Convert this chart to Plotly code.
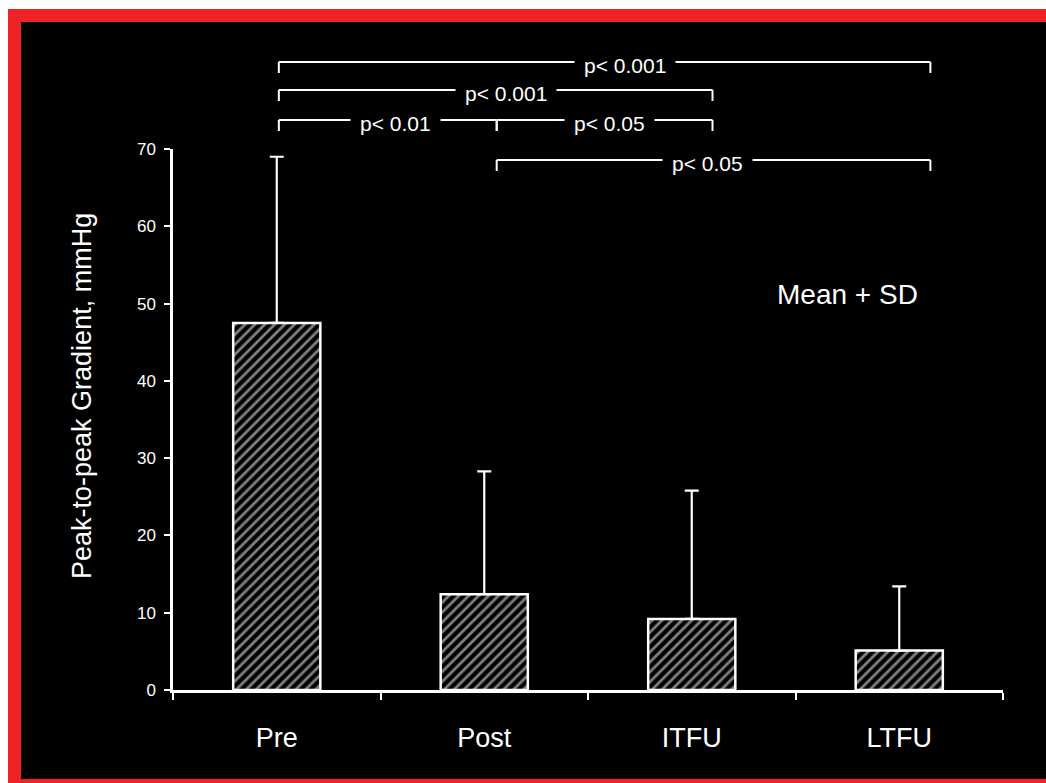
import plotly.graph_objects as go

# ---------------- data ----------------
categories = ["Pre", "Post", "ITFU", "LTFU"]
means = [47.5, 12.4, 9.2, 5.1]
sds = [21.5, 15.9, 16.6, 8.3]
y_tick_values = [0, 10, 20, 30, 40, 50, 60, 70]
y_title = "Peak-to-peak Gradient, mmHg"
note_text = "Mean + SD"

comp_left = ["Pre", "Pre", "Pre", "Post", "Post"]
comp_right = ["LTFU", "ITFU", "Post", "ITFU", "LTFU"]
comp_labels = ["p< 0.001", "p< 0.001", "p< 0.01", "p< 0.05", "p< 0.05"]

# ---------------- layout helpers ----------------
W, H = 1046, 783
FONT = "Liberation Sans, Arial, Helvetica, sans-serif"


def px_x(p):
    return p / W


def px_y(p):
    return 1 - p / H


# bracket geometry (pixels from top) and endpoint offsets in category units
bracket_levels = [62, 90, 120, 120, 160]
left_offset = {"Pre": 0.01, "Post": 0.06}
right_offset = {"Post": 0.06, "ITFU": 0.10, "LTFU": 0.15}
label_shift = [20, 10, 8, 5, -6]
tick_drop = 11

idx = {c: i for i, c in enumerate(categories)}

fig = go.Figure()
fig.add_trace(go.Bar(
    x=categories,
    y=means,
    width=0.42,
    marker=dict(
        color="black",
        line=dict(color="white", width=2.5),
        pattern=dict(shape="/", fgcolor="white", bgcolor="black",
                     size=7, solidity=0.4),
    ),
    error_y=dict(type="data", symmetric=False, array=sds,
                 arrayminus=[0] * len(sds), color="white",
                 thickness=2.2, width=7),
    showlegend=False,
))

shapes = [
    # red frame and black slide background
    dict(type="rect", xref="paper", yref="paper", layer="below",
         x0=px_x(8), x1=px_x(W + 5), y0=px_y(9), y1=px_y(H + 5),
         fillcolor="#ee2326", line=dict(width=0)),
    dict(type="rect", xref="paper", yref="paper", layer="below",
         x0=px_x(21), x1=px_x(W + 5), y0=px_y(22), y1=px_y(779),
         fillcolor="black", line=dict(width=0)),
]

annotations = []
for L, R, lab, lvl, sh in zip(comp_left, comp_right, comp_labels,
                              bracket_levels, label_shift):
    xl = idx[L] + left_offset[L]
    xr = idx[R] + right_offset[R]
    line = dict(color="white", width=2)
    shapes.append(dict(type="line", xref="x", yref="paper",
                       x0=xl, x1=xr, y0=px_y(lvl), y1=px_y(lvl), line=line))
    shapes.append(dict(type="line", xref="x", yref="paper",
                       x0=xl, x1=xl, y0=px_y(lvl), y1=px_y(lvl + tick_drop),
                       line=line))
    shapes.append(dict(type="line", xref="x", yref="paper",
                       x0=xr, x1=xr, y0=px_y(lvl), y1=px_y(lvl + tick_drop),
                       line=line))
    annotations.append(dict(
        x=(xl + xr) / 2, xref="x", y=px_y(lvl + 3), yref="paper",
        xshift=sh, text=lab, showarrow=False, bgcolor="black",
        borderpad=9, font=dict(family=FONT, size=21, color="white"),
        xanchor="center", yanchor="middle"))

annotations.append(dict(
    x=px_x(82), y=px_y(396), xref="paper", yref="paper", text=y_title,
    textangle=-90, showarrow=False, xanchor="center", yanchor="middle",
    font=dict(family=FONT, size=27, color="white")))

annotations.append(dict(
    x=px_x(847), y=px_y(294), xref="paper", yref="paper", text=note_text,
    showarrow=False, xanchor="center", yanchor="middle",
    font=dict(family=FONT, size=28, color="white")))

fig.update_layout(
    width=W, height=H,
    margin=dict(l=0, r=0, t=0, b=0, pad=0),
    paper_bgcolor="white",
    plot_bgcolor="rgba(0,0,0,0)",
    font=dict(family=FONT, color="white"),
    shapes=shapes,
    annotations=annotations,
    xaxis=dict(
        domain=[px_x(173), px_x(1003)],
        type="category",
        range=[-0.5, 3.5],
        automargin=False,
        showline=True, linecolor="white", linewidth=2.5,
        ticks="outside", tickson="boundaries", ticklen=7,
        tickcolor="white", tickwidth=2,
        tickfont=dict(family=FONT, size=27, color="white"),
        ticklabelstandoff=22,
        showgrid=False, zeroline=False, fixedrange=True,
    ),
    yaxis=dict(
        domain=[px_y(690), px_y(149)],
        range=[0, 70],
        automargin=False,
        tickvals=y_tick_values,
        showline=True, linecolor="white", linewidth=2.5,
        ticks="outside", ticklen=6, tickcolor="white", tickwidth=2,
        tickfont=dict(family=FONT, size=17, color="white"),
        ticklabelstandoff=5,
        showgrid=False, zeroline=False, fixedrange=True,
    ),
)

fig.write_html("out.html")
